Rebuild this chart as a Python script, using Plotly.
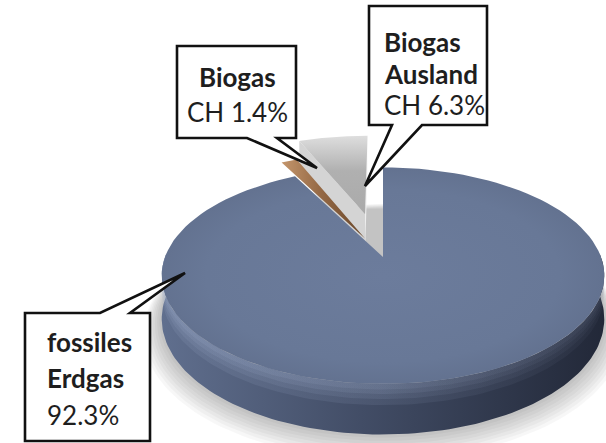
import numpy as np
import plotly.graph_objects as go

# ---- data ---------------------------------------------------------------
categories = ["fossiles Erdgas", "Biogas CH", "Biogas Ausland CH"]
shares = [92.3, 1.4, 6.3]
label_title = [["fossiles", "Erdgas"], ["Biogas"], ["Biogas", "Ausland"]]
label_prefix = ["", "CH ", "CH "]

# ---- styling ------------------------------------------------------------
W, H = 606, 443
CX, CY = 383, 257          # projected pie centre (px)
AX, BY = 218, 105          # horizontal / vertical radius scale (px)
K = 0.172                  # perspective strength
DEPTH = 42                 # thickness of the pie (px)
pull = {"fossiles Erdgas": 0.0, "Biogas CH": 0.2, "Biogas Ausland CH": 0.45}
FONT = "Lato"
TXT = "#1e1e1e"


def proj(u, v, z=0.0):
    """Project a point of the unit disc (u right, v back, z down) to px."""
    u = np.asarray(u, float)
    v = np.asarray(v, float)
    s = 1.0 / (1.0 + K * v)
    return CX + AX * u * s, CY - BY * v * s + DEPTH * z * s


fig = go.Figure()


def poly(xs, ys, color=None, gradient=None):
    kw = {}
    if gradient is not None:
        kw["fillgradient"] = gradient
        color = color or "rgba(0,0,0,0)"
    fig.add_trace(go.Scatter(
        x=list(xs), y=list(ys), mode="lines", fill="toself",
        fillcolor=color, line=dict(color="rgba(0,0,0,0)", width=0),
        hoverinfo="skip", showlegend=False, **kw))


def grad(kind, stops):
    return dict(type=kind, colorscale=[[p, c] for p, c in stops])


# slice angles (clockwise from the back of the pie)
total = sum(shares)
bounds = np.concatenate([[0.0], np.cumsum(shares)]) / total * 360.0
slices = []
for i, name in enumerate(categories):
    t0, t1 = bounds[i], bounds[i + 1]
    mid = np.radians((t0 + t1) / 2)
    p = pull[name]
    slices.append(dict(name=name, t0=t0, t1=t1,
                       du=p * np.sin(mid), dv=p * np.cos(mid)))
main, brown, grey = slices


def rim(sl, a0, a1, z, r=1.0, n=120):
    th = np.radians(np.linspace(a0, a1, n))
    return proj(sl["du"] + r * np.sin(th), sl["dv"] + r * np.cos(th), z)


def wedge(sl, z=0.0):
    x, y = rim(sl, sl["t0"], sl["t1"], z)
    ax, ay = proj(sl["du"], sl["dv"], z)
    return np.r_[ax, x], np.r_[ay, y]


def radial_wall(sl, ang):
    a = np.radians(ang)
    u = sl["du"] + np.array([0, np.sin(a)])
    v = sl["dv"] + np.array([0, np.cos(a)])
    xt, yt = proj(u, v, 0.0)
    xb, yb = proj(u, v, 1.0)
    return np.r_[xt, xb[::-1]], np.r_[yt, yb[::-1]]


def band(sl, a0, a1, z0, z1):
    xt, yt = rim(sl, a0, a1, z0)
    xb, yb = rim(sl, a0, a1, z1)
    return np.r_[xt, xb[::-1]], np.r_[yt, yb[::-1]]


# ---- soft drop shadow under the disc -----------------------------------
for i in range(8, 0, -1):
    x, y = rim(main, 0, 360, 1.0, r=1.0 + 0.010 * i, n=181)
    poly(x, y + 1.5 * i, "rgba(0,0,0,0.03)")

# ---- Biogas Ausland CH (grey, pulled furthest back) ----------------------
x, y = radial_wall(grey, grey["t0"])
poly(x, y, "rgb(212,212,212)")
x, y = radial_wall(grey, grey["t1"])
poly(x, y, gradient=grad("vertical", [(0, "rgb(236,236,236)"), (1, "rgb(250,250,250)")]))
x, y = wedge(grey)
poly(x, y, gradient=grad("vertical", [(0, "rgb(170,170,170)"), (0.55, "rgb(176,176,176)"),
                                      (1, "rgb(222,222,222)")]))

# ---- fossiles Erdgas (main disc) ---------------------------------------
x, y = band(main, 88, 272, 0.0, 1.0)
poly(x, y, gradient=grad("horizontal", [(0, "rgb(96,111,142)"), (0.45, "rgb(66,77,102)"),
                                        (1, "rgb(34,40,56)")]))
# rounded upper edge of the side wall: soft highlight fading downwards
for z1, alpha in [(0.42, 0.14), (0.30, 0.14), (0.20, 0.16), (0.11, 0.16)]:
    x, y = band(main, 88, 272, 0.0, z1)
    poly(x, y, gradient=grad("horizontal", [(0, f"rgba(160,175,205,{alpha})"),
                                            (0.5, f"rgba(150,165,195,{alpha * 0.9})"),
                                            (1, f"rgba(110,120,145,{alpha * 0.5})")]))
x, y = wedge(main)
poly(x, y, gradient=grad("radial", [(0, "rgb(108,124,156)"), (0.8, "rgb(104,120,151)"),
                                    (1, "rgb(99,114,144)")]))

# ---- Biogas CH (brown) ------------------------------------------------------
x, y = wedge(brown)
poly(x, y, gradient=grad("horizontal", [(0, "rgb(196,150,108)"), (0.45, "rgb(150,106,70)"),
                                        (1, "rgb(104,70,42)")]))

# ---- call-out boxes ------------------------------------------------------
callouts = [
    "M177,46 L296,46 L296,138 L277,138 L317,168 L247,138 L177,138 Z",
    "M369,6 L487,6 L487,125 L422,125 L365,186 L392,125 L369,125 Z",
    "M25,313 L100,313 L185,273 L130,313 L150,313 L150,441 L25,441 Z",
]
shapes = [dict(type="path", path=p, xref="x", yref="y",
               line=dict(color="#111111", width=2.6), fillcolor="white",
               layer="above") for p in callouts]

label_pos = {
    "Biogas CH": dict(x=237, anchor="center", y=[77, 112]),
    "Biogas Ausland CH": dict(x=382, anchor="left", y=[42, 74, 105]),
    "fossiles Erdgas": dict(x=45, anchor="left", y=[342, 378, 415]),
}
annotations = []
for name, share, title, prefix in zip(categories, shares, label_title, label_prefix):
    lines = [f"<b>{t}</b>" for t in title] + [f"{prefix}{share:.1f}%"]
    pos = label_pos[name]
    for txt, yy in zip(lines, pos["y"]):
        annotations.append(dict(
            x=pos["x"], y=yy, xref="x", yref="y", text=txt, showarrow=False,
            xanchor=pos["anchor"], yanchor="middle",
            font=dict(family=FONT, size=26, color=TXT)))

fig.update_layout(
    width=W, height=H, margin=dict(l=0, r=0, t=0, b=0),
    paper_bgcolor="white", plot_bgcolor="white",
    xaxis=dict(range=[0, W], visible=False, fixedrange=True),
    yaxis=dict(range=[H, 0], visible=False, fixedrange=True),
    shapes=shapes, annotations=annotations, showlegend=False,
    hovermode=False,
)
fig.write_html("out.html")
